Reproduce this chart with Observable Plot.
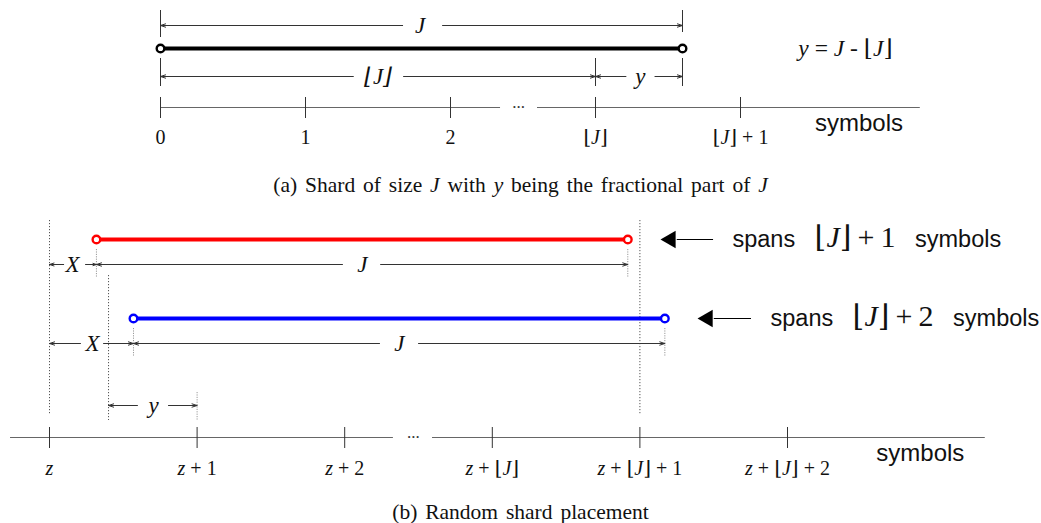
<!DOCTYPE html>
<html>
<head>
<meta charset="utf-8">
<script src="https://cdn.jsdelivr.net/npm/d3@7"></script>
<script src="https://cdn.jsdelivr.net/npm/@observablehq/plot@0.6"></script>
<style>
  html, body { margin: 0; padding: 0; background: #fff; }
  #wrap { position: relative; width: 1041px; height: 523px; }
  #wrap > svg, #wrap > div { position: absolute; left: 0; }
  .cap { width: 1041px; text-align: center; font-family: 'Liberation Serif', 'Times New Roman', serif; font-size: 21.5px; word-spacing: 2.5px; color: #111; line-height: 26px; }
</style>
</head>
<body>
<div id="wrap"></div>
<script>
// ---------- data ----------
const J = 3.6;                 // shard size in symbols
const yFrac = 0.6;             // fractional part of J
const floorJ = 3;
const ticksA = [0, 1, 2, 3, 4];
const tickLabelsA = ["0", "1", "2", "⌊_J_⌋", "⌊_J_⌋ + 1"];
const ticksB = [0, 1, 2, 3, 4, 5];
const tickLabelsB = ["_z_", "_z_ + 1", "_z_ + 2", "_z_ + ⌊_J_⌋", "_z_ + ⌊_J_⌋ + 1", "_z_ + ⌊_J_⌋ + 2"];
const placementX = [0.318, 0.569];          // random offsets X (red, blue)
const shardColors = ["#ff0000", "#0000ff"];
const spanLabels = ["spans\u00a0\u00a0\u00a0§⌊_J_⌋\u2009+\u20091§\u00a0\u00a0\u00a0symbols", "spans\u00a0\u00a0\u00a0§⌊_J_⌋\u2009+\u20092§\u00a0\u00a0\u00a0symbols"];
const captionA = "(a) Shard of size <i>J</i> with <i>y</i> being the fractional part of <i>J</i>";
const captionB = "(b) Random shard placement";

// ---------- layout ----------
const W = 1041;
const SERIF = "'Liberation Serif', 'Times New Roman', 'DejaVu Serif', serif";
const SANS = "'Liberation Sans', Arial, Helvetica, sans-serif";
const ns = "http://www.w3.org/2000/svg";

function rich(root, mathSize) {
  root.querySelectorAll("text").forEach(t => {
    const s = t.textContent;
    if (!/[_§]/.test(s)) return;
    t.textContent = "";
    let italic = false, math = false, buf = "";
    const flush = () => {
      if (!buf) return;
      const ts = document.createElementNS(ns, "tspan");
      ts.textContent = buf;
      if (italic) ts.setAttribute("font-style", "italic");
      if (math) { ts.setAttribute("font-family", SERIF); ts.setAttribute("font-size", mathSize); }
      t.appendChild(ts); buf = "";
    };
    for (const ch of s) {
      if (ch === "_") { flush(); italic = !italic; }
      else if (ch === "§") { flush(); math = !math; }
      else buf += ch;
    }
    flush();
  });
}

// dimension line helper: two arrows pointing outward from a label
function dims(list, stroke) {
  const arrows = [];
  list.forEach(d => {
    arrows.push({x1: d.lab - d.gl, x2: d.from, y: d.y});
    arrows.push({x1: d.lab + d.gr, x2: d.to, y: d.y});
  });
  return [
    Plot.arrow(arrows, {x1: "x1", x2: "x2", y1: "y", y2: "y", stroke, strokeWidth: 1, headLength: 8, headAngle: 36}),
    Plot.text(list, {x: "lab", y: "y", text: "label", fontFamily: SERIF, fontStyle: "italic", fontSize: 23, fill: "#111"})
  ];
}

const wrap = document.getElementById("wrap");

// ---------- panel (a) ----------
{
  const o = 160, u = 145, H = 160;
  const dimList = [
    {from: 0, to: J, y: 25, lab: 1.79, gl: 0.12, gr: 0.155, label: "J"},
    {from: 0, to: floorJ, y: 76, lab: 1.50, gl: 0.17, gr: 0.176, label: "⌊J⌋"},
    {from: floorJ, to: J, y: 76, lab: 3.31, gl: 0.10, gr: 0.10, label: "y"}
  ];
  const ext = [
    {x: 0, y1: 10, y2: 37}, {x: J, y1: 10, y2: 32},
    {x: 0, y1: 58, y2: 86}, {x: floorJ, y1: 58, y2: 86}, {x: J, y1: 58, y2: 86}
  ];
  const p = Plot.plot({
    width: W, height: H, margin: 0,
    x: {domain: [-o / u, (W - o) / u], range: [0, W]},
    y: {domain: [0, H], range: [0, H]},
    axis: null,
    style: {background: "transparent", overflow: "visible"},
    marks: [
      Plot.ruleX(ext, {x: "x", y1: "y1", y2: "y2", stroke: "#333", strokeWidth: 1}),
      ...dims(dimList, "#333"),
      // axis
      Plot.ruleY([{a: 0, b: 2.345}, {a: 2.6, b: 5.24}], {x1: "a", x2: "b", y: () => 107, stroke: "#666", strokeWidth: 1.2}),
      Plot.ruleX(ticksA, {x: d => d, y1: 97, y2: 118, stroke: "#333", strokeWidth: 1}),
      Plot.text(["..."], {x: 2.47, y: 107, dy: -5, fontFamily: SERIF, fontSize: 17, fill: "#333"}),
      Plot.text(ticksA, {x: d => d, y: 137, text: (d, i) => tickLabelsA[i], fontFamily: SERIF, fontSize: 20, fill: "#111"}),
      Plot.text(["symbols"], {x: 4.817, y: 123, fontFamily: SANS, fontSize: 24, fill: "#111"}),
      Plot.text(["_y_ = _J_ - ⌊_J_⌋"], {x: 4.724, y: 48, fontFamily: SERIF, fontSize: 23.5, fill: "#111"}),
      // shard
      Plot.ruleY([0], {x1: 0, x2: J, y: 48, stroke: "#000", strokeWidth: 4}),
      Plot.dot([0, J], {x: d => d, y: 48, r: 3.8, fill: "#fff", stroke: "#000", strokeWidth: 2.4})
    ]
  });
  p.querySelectorAll("text").forEach(t => {
    if (t.textContent === "⌊J⌋") t.textContent = "⌊_J_⌋";
  });
  rich(p, 22);
  p.style.top = "0px";
  wrap.appendChild(p);
}

// caption (a)
{
  const d = document.createElement("div");
  d.className = "cap"; d.style.top = "172px"; d.innerHTML = captionA;
  wrap.appendChild(d);
}

// ---------- panel (b) ----------
{
  const o = 49, u = 147.6, top = 200, H = 295;
  const rows = [239, 318];   // shard rows
  const dimRows = [264, 343];
  const dimList = [
    {from: 0, to: placementX[0], y: dimRows[0], lab: 0.156, gl: 0.06, gr: 0.088, label: "X"},
    {from: placementX[0], to: placementX[0] + J, y: dimRows[0], lab: 2.12, gl: 0.135, gr: 0.123, label: "J"},
    {from: 0, to: placementX[1], y: dimRows[1], lab: 0.291, gl: 0.081, gr: 0.075, label: "X"},
    {from: placementX[1], to: placementX[1] + J, y: dimRows[1], lab: 2.371, gl: 0.135, gr: 0.129, label: "J"},
    {from: 1 - yFrac, to: 1, y: 405, lab: 0.705, gl: 0.109, gr: 0.101, label: "y"}
  ];
  const longDots = [
    {x: 0, y1: 220, y2: 414}, {x: 1 - yFrac, y1: 275, y2: 420}, {x: floorJ + 1, y1: 220, y2: 415}
  ];
  const shortDots = [];
  placementX.forEach((X, i) => {
    shortDots.push({x: X, y1: rows[i] + 10, y2: rows[i] + 38});
    shortDots.push({x: X + J, y1: rows[i] + 10, y2: rows[i] + 38});
  });
  shortDots.push({x: 1, y1: 392, y2: 420});
  const shards = placementX.map((X, i) => ({a: X, b: X + J, y: rows[i], c: shardColors[i]}));
  const ends = shards.flatMap(s => [{x: s.a, y: s.y, c: s.c}, {x: s.b, y: s.y, c: s.c}]);
  const pointers = [
    {tip: 4.153, tail: 4.499, y: rows[0], tx: 4.627, label: spanLabels[0]},
    {tip: 4.404, tail: 4.756, y: rows[1], tx: 4.885, label: spanLabels[1]}
  ];
  const p = Plot.plot({
    width: W, height: H, margin: 0,
    x: {domain: [-o / u, (W - o) / u], range: [0, W]},
    y: {domain: [top, top + H], range: [0, H]},
    axis: null,
    style: {background: "transparent", overflow: "visible"},
    marks: [
      Plot.ruleX(longDots, {x: "x", y1: "y1", y2: "y2", stroke: "#555", strokeWidth: 1, strokeDasharray: "1.2,1.8"}),
      Plot.ruleX(shortDots, {x: "x", y1: "y1", y2: "y2", stroke: "#999", strokeWidth: 1, strokeDasharray: "1.2,1.2"}),
      ...dims(dimList, "#333"),
      // axis
      Plot.ruleY([{a: -0.264, b: 2.33}, {a: 2.595, b: 6.34}], {x1: "a", x2: "b", y: () => 437, stroke: "#666", strokeWidth: 1.2}),
      Plot.ruleX(ticksB, {x: d => d, y1: 427, y2: 448, stroke: "#333", strokeWidth: 1}),
      Plot.text(["..."], {x: 2.466, y: 437, dy: -5, fontFamily: SERIF, fontSize: 17, fill: "#333"}),
      Plot.text(ticksB, {x: d => d, y: 468, text: (d, i) => tickLabelsB[i], fontFamily: SERIF, fontSize: 20, fill: "#111"}),
      Plot.text(["symbols"], {x: 5.9, y: 453, fontFamily: SANS, fontSize: 24, fill: "#111"}),
      // shards
      Plot.ruleY(shards, {x1: "a", x2: "b", y: "y", stroke: "c", strokeWidth: 4.2}),
      Plot.dot(ends, {x: "x", y: "y", r: 3.8, fill: "#fff", stroke: "c", strokeWidth: 2.4}),
      // pointers
      Plot.ruleY(pointers, {x1: d => d.tip + 0.1, x2: "tail", y: "y", stroke: "#000", strokeWidth: 1.2}),
      Plot.dot(pointers, {x: d => d.tip + 0.055, y: "y", symbol: "triangle", r: 6.5, rotate: -90, fill: "#000", stroke: "none"}),
      Plot.text(pointers, {x: "tx", y: "y", text: "label", textAnchor: "start", fontFamily: SANS, fontSize: 23.5, fill: "#111"})
    ]
  });
  p.querySelectorAll("text").forEach(t => {
    if (t.textContent === "⌊J⌋") t.textContent = "⌊_J_⌋";
  });
  rich(p, 30);
  p.style.top = top + "px";
  wrap.appendChild(p);
}

// caption (b)
{
  const d = document.createElement("div");
  d.className = "cap"; d.style.top = "499px"; d.innerHTML = captionB;
  wrap.appendChild(d);
}
</script>
</body>
</html>
